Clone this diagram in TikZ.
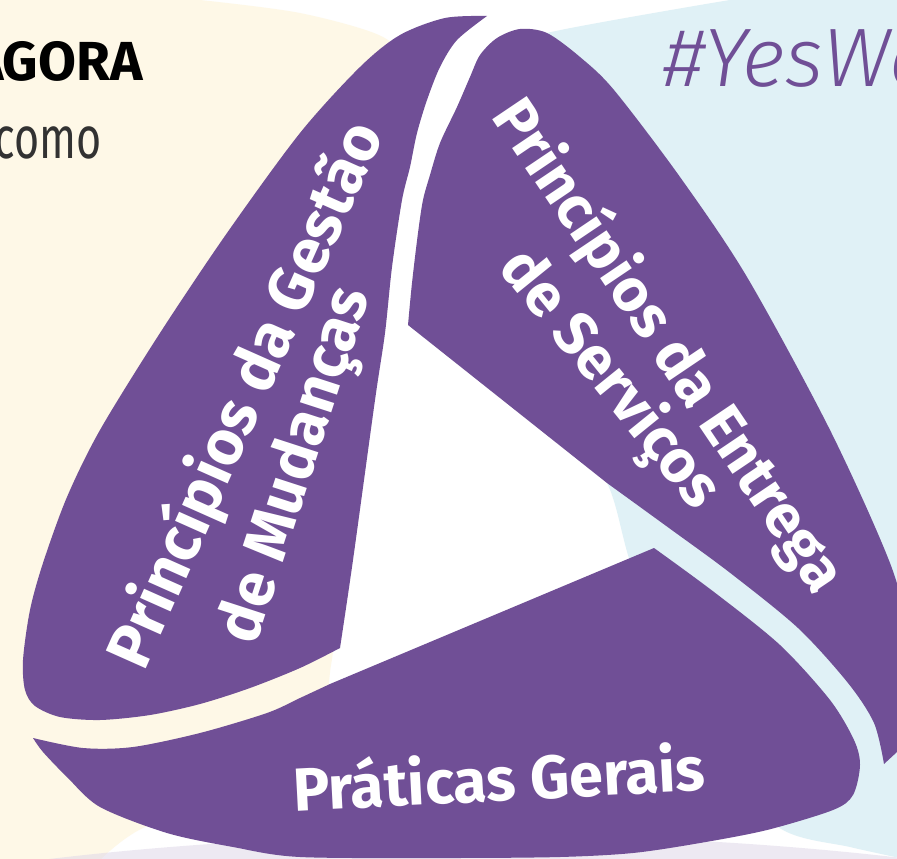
\documentclass[tikz,border=0pt]{standalone}
\usepackage{fontspec}
\setmainfont{Fira Sans}
\IfFontExistsTF{Fira Sans Light Italic}{\newfontfamily\lightfont{Fira Sans Light Italic}}{\newcommand\lightfont{\itshape}}
\definecolor{itilpurple}{RGB}{112,79,150}
\definecolor{creambg}{RGB}{254,248,231}
\definecolor{bluebg}{RGB}{224,241,246}
\definecolor{lilacbg}{RGB}{221,213,231}
\definecolor{textgrey}{RGB}{50,50,50}
\tikzstyle{band}=[fill=itilpurple]
\tikzstyle{bandtext}=[text=white,font=\bfseries\fontsize{60}{60}\selectfont,inner sep=0pt]
\tikzstyle{plain}=[inner sep=0pt]

\begin{document}
\begin{tikzpicture}[x=1pt,y=-1pt]
	\useasboundingbox (0,0) rectangle (897,859);
	\clip (0,0) rectangle (897,859);
	\fill[white] (0,0) rectangle (897,859);

	% First the pale circles behind
	\fill[creambg] (-10,-10) -- plot[smooth] coordinates {(200,0) (300,13) (383,37) (405,70) (395,150) (375,260) (357,380) (345,520) (336,620) (331,665) (318,720) (250,790) (143,828) (100,860)} -- (-10,870) -- cycle;
	\fill[bluebg] (910,-10) -- (910,870) -- plot[smooth] coordinates {(900,858) (850,847) (783,830) (715,770) (660,660) (628,555) (607,483) (560,420) (500,350) (470,250) (465,150) (480,80) (510,45) (547,33) (614,20) (730,0) (800,-10)} -- cycle;
	\fill[lilacbg, fill opacity=0.5] (480,1035) ellipse [x radius=906pt, y radius=200pt];

	% Then the three purple bands
	\fill[band] plot[smooth] coordinates {(340,648) (300,668) (250,688) (200,704) (150,715) (100,720) (60,717) (35,706) (25,690) (23,660) (30,610) (43,563) (67,497) (100,430) (160,333) (227,233) (300,133) (360,67) (400,35) (445,18) (487,16)}
		-- plot[smooth] coordinates {(487,16) (457,40) (440,67) (427,100) (417,133) (410,167) (402,200) (392,267) (385,333) (375,400) (353,560) (340,648)} -- cycle;
	\fill[band] plot[smooth] coordinates {(408,325) (412,283) (418,233) (423,200) (430,175) (440,143) (457,107) (470,77) (480,55) (497,38) (520,29) (547,33) (580,57) (614,90) (680,177) (747,277) (830,430) (890,563) (915,650)}
		-- (930,700) -- (897,752) -- (884,764)
		-- plot[smooth] coordinates {(884,764) (874,723) (848,683) (798,628) (729,572) (669,528) (607,483)} -- cycle;
	\fill[band] plot[smooth] coordinates {(33,738) (83,748) (133,747) (200,733) (267,713) (300,698) (330,684)} -- (654,548)
		-- plot[smooth] coordinates {(654,548) (714,592) (780,645) (830,700) (854,740) (860,765) (853,795) (833,810) (767,830) (700,843) (633,853) (560,857) (450,858) (300,857) (233,847) (167,833) (100,807) (67,777) (43,752) (33,738)} -- cycle;

	% Labels on the bands
	\foreach \pos/\ang/\size/\name/\txt in {{(247,395)/66/63/gestao/Princípios da Gestão}, {(298,466)/72/62/mudancas/de Mudanças},
								{(668,346)/-56/60/entrega/Princípios da Entrega}, {(609,380)/-51/60/servicos/de Serviços},
								{(499,776)/3/61/praticas/Práticas Gerais}}
		\node[bandtext, rotate=\ang, font=\bfseries\fontsize{\size}{\size}\selectfont] (\name) at \pos {\txt};

	% Text around the figure
	\node[plain, anchor=base east, font=\bfseries\fontsize{55}{55}\selectfont, text=black] (agora) at (143,81) {AGORA};
	\node[plain, anchor=base east, xscale=0.73, font=\fontsize{59}{59}\selectfont, text=textgrey] (como) at (102,158) {como};
	\node[plain, anchor=base west, font=\lightfont\fontsize{83}{83}\selectfont, text=itilpurple] (yeswe) at (663,87) {\#YesWe};
\end{tikzpicture}
\end{document}
